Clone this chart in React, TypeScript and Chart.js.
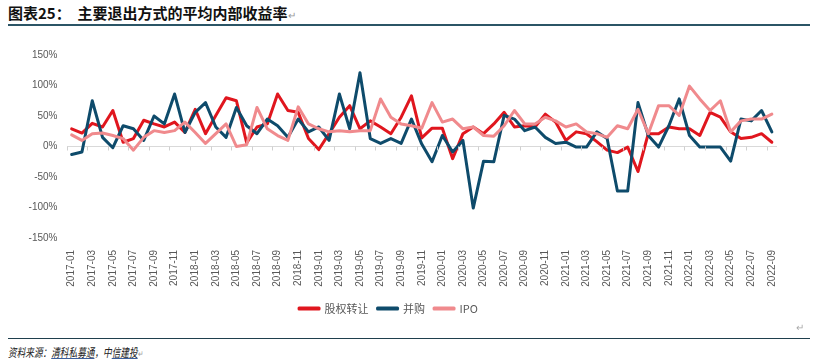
import React, { useEffect, useRef } from "react";
import { Chart, registerables } from "chart.js";

Chart.register(...registerables);

const categories: string[] = [];
for (let y = 2017; y <= 2022; y++) {
  for (let m = 1; m <= 12; m++) {
    if (y === 2022 && m > 9) break;
    categories.push(`${y}-${String(m).padStart(2, "0")}`);
  }
}

const equityTransfer = [
  29, 22, 38, 32, 59, 7, 13, 43, 37, 32, 40, 23, 61, 21, 51, 80, 75, 6,
  32, 37, 86, 59, 56, 13, -5, 21, 48, 67, 29, 42, 32, 21, 48, 83, 14,
  30, 30, -20, 21, 32, 21, 37, 56, 32, 34, 32, 53, 40, 10, 24, 21, 8,
  -6, -10, -1, -41, 21, 21, 32, 29, 29, 18, 56, 48, 24, 13, 15, 21, 7,
];

const mergers = [
  -13, -9, 75, 15, -2, 34, 29, 10, 50, 37, 86, 23, 56, 72, 32, 15, 64, 34,
  21, 45, 34, 15, 45, 24, 32, 10, 86, 29, 121, 13, 5, 13, 5, 45, 4,
  -25, 18, -9, 10, -101, -24, -25, 51, 45, 26, 32, 15, 5, 7, -1, -1, 24,
  13, -73, -73, 72, 18, -1, 34, 78, 18, -1, -1, -1, -24, 45, 42, 59, 24,
];

const ipo = [
  19, 10, 21, 22, 18, 13, -6, 15, 26, 23, 26, 40, 23, 5, 21, 37, 0, 3,
  64, 29, 18, 10, 65, 37, 29, 24, 26, 24, 26, 26, 78, 48, 37, 34, 30,
  72, 40, 45, 29, 32, 18, 17, 34, 59, 37, 37, 48, 42, 32, 37, 24, 21,
  15, 34, 29, 61, 21, 67, 67, 51, 99, 78, 59, 75, 24, 42, 45, 45, 53,
];

const seriesNames = ["股权转让", "并购", "IPO"];
const yTicks = [-150, -100, -50, 0, 50, 100, 150];

const RED = "#E0161E";
const BLUE = "#0E4B6B";
const PINK = "#F08A8D";

const zeroTicksPlugin = {
  id: "zeroTicks",
  afterDatasetsDraw(chart: any) {
    const x = chart.scales.x;
    const y = chart.scales.y;
    const ctx = chart.ctx;
    const y0 = y.getPixelForValue(0);
    ctx.save();
    ctx.strokeStyle = "#D0D0D0";
    ctx.lineWidth = 1;
    for (let k = 0; k <= categories.length; k += 2) {
      let px: number;
      if (k === 0) px = x.left;
      else if (k === categories.length) px = x.right;
      else px = (x.getPixelForValue(k) + x.getPixelForValue(k - 1)) / 2;
      ctx.beginPath();
      ctx.moveTo(Math.round(px) + 0.5, y0);
      ctx.lineTo(Math.round(px) + 0.5, y0 + 4);
      ctx.stroke();
    }
    ctx.restore();
  },
};

export default function App() {
  const ref = useRef<HTMLCanvasElement | null>(null);

  useEffect(() => {
    document.body.style.margin = "0";
    if (!ref.current) return;
    const tickFont = { family: "'Liberation Sans', Arial, sans-serif", size: 10 };
    const chart = new Chart(ref.current, {
      type: "line",
      data: {
        labels: categories,
        datasets: [
          {
            label: seriesNames[0],
            data: equityTransfer,
            borderColor: RED,
            backgroundColor: RED,
            borderWidth: 3,
            pointRadius: 0,
            tension: 0,
            borderJoinStyle: "round",
            borderCapStyle: "round",
            order: 2,
          },
          {
            label: seriesNames[1],
            data: mergers,
            borderColor: BLUE,
            backgroundColor: BLUE,
            borderWidth: 3,
            pointRadius: 0,
            tension: 0,
            borderJoinStyle: "round",
            borderCapStyle: "round",
            order: 1,
          },
          {
            label: seriesNames[2],
            data: ipo,
            borderColor: PINK,
            backgroundColor: PINK,
            borderWidth: 3,
            pointRadius: 0,
            tension: 0,
            borderJoinStyle: "round",
            borderCapStyle: "round",
            order: 0,
          },
        ],
      },
      options: {
        animation: false,
        responsive: false,
        layout: { padding: { top: 12, right: 37, left: 0, bottom: 16 } },
        plugins: {
          tooltip: { enabled: false },
          legend: {
            position: "bottom",
            labels: {
              boxWidth: 20,
              boxHeight: 1,
              padding: 9,
              color: "#595959",
              font: { family: "'Noto Sans CJK SC', 'Liberation Sans', sans-serif", size: 11 },
              sort: (a: any, b: any) => a.datasetIndex - b.datasetIndex,
            },
          },
        },
        scales: {
          x: {
            type: "category",
            offset: true,
            grid: { display: false },
            border: { display: false },
            ticks: {
              autoSkip: false,
              maxRotation: 90,
              minRotation: 90,
              padding: 4,
              color: "#595959",
              font: tickFont,
              callback: (_v: any, i: number) => (i % 2 === 0 ? categories[i] : ""),
            },
            afterFit: (scale: any) => {
              scale.height = 56;
            },
          },
          y: {
            min: -150,
            max: 150,
            afterBuildTicks: (scale: any) => {
              scale.ticks = yTicks.map((v) => ({ value: v }));
            },
            grid: {
              drawTicks: false,
              color: (c: any) => (c.tick && c.tick.value === 0 ? "#D9D9D9" : "rgba(0,0,0,0)"),
            },
            border: { display: false },
            ticks: {
              padding: 9,
              color: "#595959",
              font: tickFont,
              callback: (v: any) => `${v}%`,
            },
            afterFit: (scale: any) => {
              scale.width = 66.5;
            },
          },
        },
      },
      plugins: [zeroTicksPlugin],
    });
    return () => chart.destroy();
  }, []);

  return (
    <div
      style={{
        position: "absolute",
        left: 0,
        top: 0,
        width: 814,
        height: 364,
        background: "#fff",
        overflow: "hidden",
        fontFamily: "'Noto Sans CJK SC', sans-serif",
      }}
    >
      <div
        style={{
          position: "absolute",
          left: 8,
          top: 3,
          fontSize: 15,
          fontWeight: 700,
          color: "#111",
          lineHeight: "20px",
          whiteSpace: "nowrap",
        }}
      >
        图表25：&nbsp;&nbsp;主要退出方式的平均内部收益率
        <span style={{ color: "#999", fontWeight: 400, fontSize: 10 }}>↵</span>
      </div>
      <div
        style={{
          position: "absolute",
          left: 8,
          top: 24,
          width: 802,
          height: 2,
          background: "#2B5566",
        }}
      />
      <canvas
        ref={ref}
        width={814}
        height={300}
        style={{ position: "absolute", left: 0, top: 40, width: 814, height: 300 }}
      />
      <div
        style={{
          position: "absolute",
          left: 796,
          top: 319,
          fontSize: 10,
          color: "#aaa",
        }}
      >
        ↵
      </div>
      <div
        style={{
          position: "absolute",
          left: 8,
          top: 338,
          width: 802,
          height: 1,
          background: "#1F3F4D",
        }}
      />
      <div
        style={{
          position: "absolute",
          left: 8,
          top: 343,
          fontSize: 12,
          fontStyle: "italic",
          color: "#222",
          lineHeight: "18px",
          whiteSpace: "nowrap",
          transform: "scaleX(0.72)",
          transformOrigin: "left center",
        }}
      >
        资料来源：
        <span style={{ textDecoration: "underline", textDecorationColor: "#3B5E9B" }}>清科私募通</span>
        ，中
        <span style={{ textDecoration: "underline", textDecorationColor: "#3B5E9B" }}>信建投</span>
        <span style={{ color: "#999", fontStyle: "normal", fontSize: 9 }}>↵</span>
      </div>
    </div>
  );
}
